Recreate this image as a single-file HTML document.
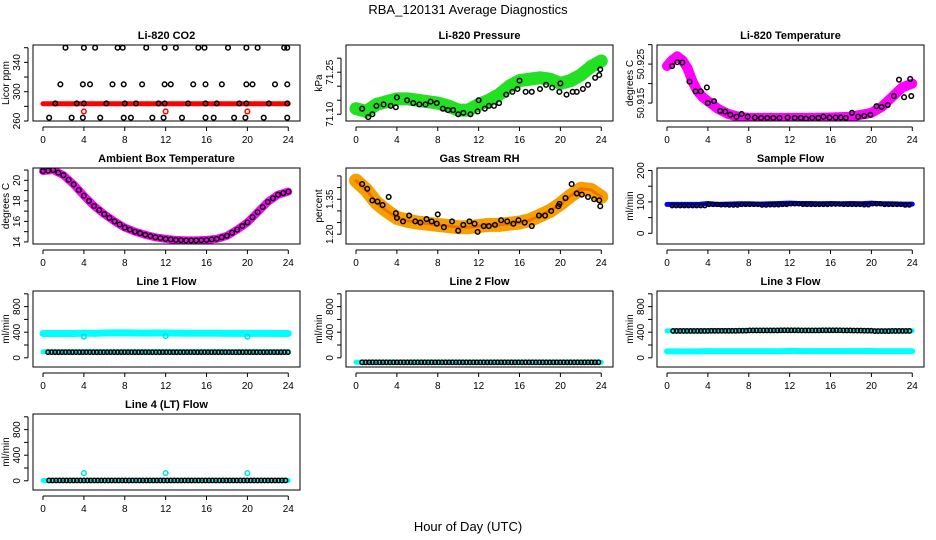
<!DOCTYPE html>
<html><head><meta charset="utf-8">
<style>
body{margin:0;background:#fff;}
svg{display:block;font-family:"Liberation Sans",sans-serif;}
</style></head>
<body>
<svg id="c" width="936" height="540" viewBox="0 0 936 540" xmlns="http://www.w3.org/2000/svg">
<rect width="936" height="540" fill="#fff"/>
<text x="468" y="14" text-anchor="middle" font-size="13">RBA_120131  Average Diagnostics</text>
<text x="468" y="531" text-anchor="middle" font-size="13">Hour of Day (UTC)</text>
</svg>
<script>
// ---------- data ----------
const xTicks=[0,4,8,12,16,20,24];
// CO2
const co2Band=[[0,283.5],[24,283.5]];
const co2TopH=[2.2,4,5.1,7.3,7.8,10.1,11.9,13,15.2,15.8,18.1,19.9,21,23.6,23.9];
const co2MidH=[1.7,3.9,4.6,6.8,7.9,9.7,11.9,12.5,14.7,15.9,17.5,19.9,20.5,22.7,23.9];
const co2RedLvlH=[1.2,3.3,4,6.2,8,9.1,11.3,11.9,14.2,15.9,17,19.2,19.9,22.1,23.9];
const co2LowH=[0.6,2.8,3.9,5.6,7.9,8.6,10.7,11.8,13.6,15.9,16.7,18.7,19.8,21.6,23.9];
const co2Levels=[360,310,284,264.5];
const co2RedH=[4,12,20];
const co2RedV=273;
// Pressure
const presBandH=[0,1,2,3,4,5,6,7,8,9,10,11,12,13,14,15,16,17,18,19,20,21,22,23,24];
const presBandV=[71.12,71.11,71.135,71.145,71.155,71.155,71.15,71.145,71.14,71.13,71.115,71.115,71.135,71.15,71.17,71.2,71.22,71.225,71.23,71.225,71.21,71.22,71.24,71.27,71.29];
const presH=[0.6,1.2,1.6,2,2.7,3.4,3.9,4,5,5.6,6.2,6.8,7.3,7.9,8.5,9,9.5,10,10.5,11.2,11.9,12,12.6,13,13.5,14,14.7,15.3,15.8,16,16.6,17.2,18,18.6,19.2,19.9,20,20.6,21.2,21.6,22.2,22.7,23.4,23.8,23.9];
const presV=[71.12,71.09,71.1,71.13,71.135,71.13,71.125,71.16,71.15,71.14,71.135,71.135,71.145,71.14,71.12,71.115,71.115,71.1,71.105,71.1,71.11,71.15,71.12,71.13,71.13,71.14,71.17,71.18,71.19,71.22,71.18,71.18,71.19,71.205,71.195,71.18,71.21,71.17,71.18,71.18,71.19,71.205,71.23,71.24,71.26];
// Li-820 temperature
const ltBandH=[0,0.5,1,1.5,2,2.5,3,3.5,4,5,6,7,8,10,12,14,16,18,19,20,21,22,23,24];
const ltBandV=[50.9245,50.926,50.927,50.926,50.924,50.9205,50.918,50.9165,50.9155,50.9135,50.9122,50.9115,50.9112,50.9112,50.9112,50.9112,50.9113,50.9115,50.912,50.9125,50.914,50.9165,50.919,50.920];
const ltH=[0.5,1,1.5,2.2,2.8,3.3,3.9,4,4.6,5.2,5.7,6.2,6.8,7.3,7.9,8.6,9.2,9.8,10.4,11,11.8,12.5,13.1,13.6,14.2,14.8,15.3,15.9,16.5,17,17.5,18.1,18.7,19.3,19.9,20.5,21,21.6,22.2,22.7,23.2,23.8,23.9];
const ltV=[50.9245,50.9255,50.9254,50.9205,50.918,50.918,50.919,50.915,50.9155,50.913,50.9128,50.912,50.9115,50.9122,50.9115,50.9113,50.9112,50.9112,50.9112,50.9112,50.9113,50.9112,50.9112,50.911,50.9112,50.9112,50.9115,50.9113,50.9113,50.9113,50.9112,50.9125,50.9115,50.9117,50.912,50.9142,50.914,50.9145,50.9168,50.921,50.9165,50.9212,50.9168];
// Ambient box temperature
const ambH=[0,1,2,3,4,5,6,7,8,9,10,11,12,13,14,15,16,17,18,19,20,21,22,23,24];
const ambV=[20.9,21.0,20.5,19.6,18.5,17.5,16.7,16.0,15.4,15.0,14.7,14.45,14.3,14.2,14.15,14.15,14.2,14.3,14.6,15.2,15.9,16.9,17.9,18.6,18.9];
// Gas stream RH
const rhBandH=[0,1,2,3,4,5,6,7,8,9,10,11,12,13,14,15,16,17,18,19,20,21,22,23,24];
const rhBandV=[1.43,1.39,1.335,1.30,1.27,1.258,1.25,1.245,1.24,1.235,1.23,1.23,1.235,1.24,1.24,1.245,1.25,1.26,1.28,1.30,1.33,1.365,1.395,1.39,1.36];
const rhH=[0.6,1.1,1.6,2.1,2.6,3.2,3.9,4,4.6,5.2,5.8,6.3,6.9,7.4,7.9,8,8.6,9.4,10,10.5,11.1,11.6,11.9,12.5,13,13.6,14.2,14.8,15.4,15.9,16.5,17.2,17.9,18.5,19.1,19.8,19.9,20.5,21.1,21.6,22.1,22.7,23.3,23.8,23.9];
const rhV=[1.415,1.395,1.345,1.34,1.325,1.36,1.29,1.27,1.255,1.28,1.255,1.25,1.265,1.255,1.245,1.285,1.23,1.255,1.215,1.24,1.255,1.245,1.21,1.235,1.235,1.24,1.26,1.255,1.245,1.26,1.25,1.235,1.28,1.28,1.3,1.32,1.33,1.355,1.415,1.375,1.37,1.36,1.35,1.345,1.32];
// flows (hourly values, value held within each hour)
const hours=[0,1,2,3,4,5,6,7,8,9,10,11,12,13,14,15,16,17,18,19,20,21,22,23,24];
const sampleBlue=[92,92,92,92,95,92,93,94,94,93,94,95,96,95,95,94,95,94,95,94,96,94,94,93,93];
const sampleBlack=[88,88,88,88,92,91,90,92,92,90,91,92,94,92,92,92,93,92,92,91,94,92,92,90,92];
const line1Cyan=[380,380,380,380,385,382,388,390,390,388,386,388,388,386,384,384,384,384,382,382,382,382,382,380,380];
const line1Black=[88,88,88,88,88,88,88,88,88,88,88,88,88,88,88,88,88,88,88,88,88,88,88,88,88];
const line1CyanLow=[95,95,95,95,95,95,95,95,95,95,95,95,95,95,95,95,95,95,95,95,95,95,95,95,95];
const line1OutH=[4,12,20];
const line1OutV=[330,340,330];
const line2Black=[-70,-70,-70,-70,-70,-70,-70,-70,-70,-70,-70,-70,-70,-70,-70,-70,-70,-70,-70,-70,-70,-70,-70,-70,-70];
const line3Black=[420,420,420,420,422,422,422,424,428,428,428,430,430,428,428,430,430,428,426,424,418,418,420,420,422];
const line3Cyan=[100,100,100,100,105,102,102,102,102,102,102,102,108,105,105,105,104,104,104,104,106,102,102,102,102];
const line4Black=[5,5,5,5,5,5,5,5,5,5,5,5,5,5,5,5,5,5,5,5,5,5,5,5,5];
const line4OutH=[4,12,20];
const line4OutV=[120,120,120];

// ---------- layout ----------
const svg=document.getElementById('c');
const NS='http://www.w3.org/2000/svg';
const colL=[33,346,657], rowT=[45,168,291,414], BW=267, BH=76;
function el(tag,attrs,parent){const e=document.createElementNS(NS,tag);for(const k in attrs)e.setAttribute(k,attrs[k]);(parent||svg).appendChild(e);return e;}

function panel(col,row,title,ylab,ylim,yTicks,yLabels,name){
  const L=colL[col],T=rowT[row];
  const g=el('g',{});
  
  
  const xs=h=>L+10+h*10.22;
  const ys=v=>T+BH-(v-ylim[0])/(ylim[1]-ylim[0])*BH;
  const t=el('text',{x:L+BW/2,y:T-6,'text-anchor':'middle','font-size':'11','font-weight':'bold'},g);
  t.textContent=title;
  
  
  const yl=el('text',{x:0,y:0,'text-anchor':'middle','font-size':'10',transform:`translate(${L-24},${T+BH/2}) rotate(-90)`},g);
  yl.textContent=ylab;
  
  
  // x axis
  const xa=el('g',{stroke:'#000','stroke-width':1},g);
  
  
  el('line',{x1:xs(xTicks[0]),x2:xs(xTicks[xTicks.length-1]),y1:T+BH+6,y2:T+BH+6},xa);
  xTicks.forEach(h=>{
    el('line',{x1:xs(h),x2:xs(h),y1:T+BH+6,y2:T+BH+10},xa);
    const tx=el('text',{x:xs(h),y:T+BH+22,'text-anchor':'middle','font-size':'10',stroke:'none'},xa);
    tx.textContent=h;
    
    
  });
  // y axis
  const ya=el('g',{stroke:'#000','stroke-width':1},g);
  
  
  el('line',{x1:L-5,x2:L-5,y1:ys(yTicks[0]),y2:ys(yTicks[yTicks.length-1])},ya);
  yTicks.forEach(v=>{el('line',{x1:L-9,x2:L-5,y1:ys(v),y2:ys(v)},ya);});
  yLabels.forEach(v=>{
    const tx=el('text',{x:0,y:0,'text-anchor':'middle','font-size':'10',stroke:'none',transform:`translate(${L-13},${ys(v)}) rotate(-90)`},ya);
    tx.textContent=v;
    
    
  });
  const clipId='clip'+name;
  const cp=el('clipPath',{id:clipId},g);el('rect',{x:L,y:T,width:BW,height:BH},cp);
  const plot=el('g',{'clip-path':`url(#${clipId})`},g);
  
  
  const box=el('rect',{x:L,y:T,width:BW,height:BH,fill:'none',stroke:'#000','stroke-width':1},g);
  
  
  return {xs,ys,plot,g,box};
}
function band(p,H,V,color,w,name){
  const pts=H.map((h,i)=>p.xs(h)+','+p.ys(V[i])).join(' ');
  const pl=el('polyline',{points:pts,fill:'none',stroke:color,'stroke-width':w,'stroke-linecap':'round','stroke-linejoin':'round'},p.plot);
  
  
}
function pts(p,H,V,color,name,r){
  H.forEach((h,i)=>{
    const v=Array.isArray(V)?V[i]:V;
    const c=el('circle',{cx:p.xs(h),cy:p.ys(v),r:r||2.3,fill:'none',stroke:color,'stroke-width':1.5},p.plot);
    
    
  });
}
function stepPts(p,vals,color,name,start,step,r){
  for(let h=start;h<=24.01;h+=step){
    const c=el('circle',{cx:p.xs(h),cy:p.ys(vals[Math.min(24,Math.floor(h))]),r:r||2.3,fill:'none',stroke:color,'stroke-width':1.5},p.plot);
    
    
  }
}
function stepBand(p,vals,color,w,name){
  const H=[],V=[];
  hours.forEach((h,i)=>{H.push(h);V.push(vals[i]);});
  band(p,H,V,color,w,name);
}
function frameTop(p){p.g.appendChild(p.box);}

// CO2
let p=panel(0,0,'Li-820 CO2','Licor ppm',[260,363.7],[260,280,300,320,340,360],[260,300,340],'co2');
band(p,co2Band.map(d=>d[0]),co2Band.map(d=>d[1]),'#ff0000',5,'co2-red-band');
pts(p,co2TopH,co2Levels[0],'#000','co2-point');
pts(p,co2MidH,co2Levels[1],'#000','co2-point');
pts(p,co2RedLvlH,co2Levels[2],'#000','co2-point');
pts(p,co2LowH,co2Levels[3],'#000','co2-point');
pts(p,co2RedH,co2RedV,'#ff0000','co2-red-point');

// Pressure
p=panel(1,0,'Li-820 Pressure','kPa',[71.076,71.347],[71.10,71.15,71.20,71.25,71.30],['71.10','71.25'],'pressure');
band(p,presBandH,presBandV,'#22e022',13,'pressure-green-band');
pts(p,presH,presV,'#000','pressure-point');

// Li temp
p=panel(2,0,'Li-820 Temperature','degrees C',[50.9104,50.9299],[50.915,50.920,50.925,50.930],['50.915','50.925'],'li820-temp');
band(p,ltBandH,ltBandV,'#ff00ff',10,'li820-temp-magenta-band');
pts(p,ltH,ltV,'#000','li820-temp-point');

// Ambient
p=panel(0,1,'Ambient Box Temperature','degrees C',[13.8,21.2],[14,15,16,17,18,19,20,21],[14,16,18,20],'ambient-temp');
band(p,ambH,ambV,'#ff00ff',8,'ambient-magenta-band');
pts(p,ambH,ambV,'#000','ambient-point');
pts(p,ambH.slice(0,24).map(h=>h+0.5),ambV.slice(0,24).map((v,i)=>(v+ambV[i+1])/2),'#000','ambient-point');

// RH
p=panel(1,1,'Gas Stream RH','percent',[1.158,1.484],[1.20,1.25,1.30,1.35,1.40,1.45],['1.20','1.35'],'rh');
band(p,rhBandH,rhBandV,'#f5a000',14,'rh-orange-band');
band(p,rhBandH,rhBandV,'#f07000',3,'rh-red-core');
pts(p,rhH,rhV,'#000','rh-point');

// Sample flow
p=panel(2,1,'Sample Flow','ml/min',[-34,208],[0,50,100,150,200],[0,100,200],'sample-flow');
stepBand(p,sampleBlue,'#0000ff',5,'sample-flow-blue-band');
stepPts(p,sampleBlack,'#000','sample-flow-point',0.5,0.4,2);

const fT=[0,200,400,600,800,1000], fL=[0,400,800], fLim=[-144,1044];
// Line 1
p=panel(0,2,'Line 1 Flow','ml/min',fLim,fT,fL,'line1-flow');
stepBand(p,line1Cyan,'#00ffff',7,'line1-cyan-band');
stepBand(p,line1CyanLow,'#00ffff',5,'line1-cyan-low-band');
stepPts(p,line1Black,'#000','line1-point',0.5,0.34,2.2);
pts(p,line1OutH,line1OutV,'#00e0e0','line1-cyan-outlier');
// Line 2
p=panel(1,2,'Line 2 Flow','ml/min',fLim,fT,fL,'line2-flow');
stepBand(p,line2Black,'#00ffff',5,'line2-cyan-band');
stepPts(p,line2Black,'#000','line2-point',0.6,0.34,2.2);
// Line 3
p=panel(2,2,'Line 3 Flow','ml/min',fLim,fT,fL,'line3-flow');
stepBand(p,line3Cyan,'#00ffff',6,'line3-cyan-band');
stepBand(p,line3Black,'#00ffff',5,'line3-cyan-top-band');
stepPts(p,line3Black,'#000','line3-point',0.6,0.34,2.2);
// Line 4
p=panel(0,3,'Line 4 (LT) Flow','ml/min',fLim,fT,fL,'line4-flow');
stepBand(p,line4Black,'#00ffff',5,'line4-cyan-band');
stepPts(p,line4Black,'#000','line4-point',0.6,0.34,2.2);
pts(p,line4OutH,line4OutV,'#00e0e0','line4-cyan-outlier');
</script>
</body></html>
